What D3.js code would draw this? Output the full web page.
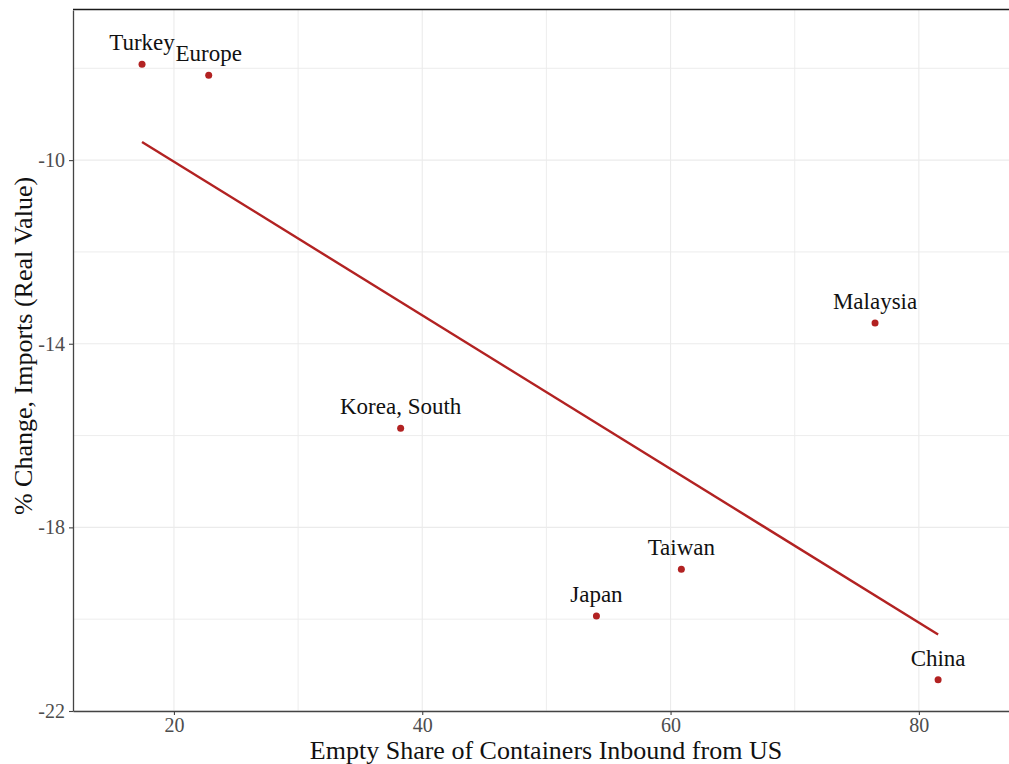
<!DOCTYPE html>
<html>
<head>
<meta charset="utf-8">
<script src="https://cdn.jsdelivr.net/npm/d3@7"></script>
<style>
  html, body { margin: 0; padding: 0; background: #fff; }
  svg { display: block; font-family: "Liberation Serif", "Times New Roman", serif; }
</style>
</head>
<body>
<svg id="chart" width="1009" height="764"></svg>
<script>
// Economies and their values
const countries = ["Turkey", "Europe", "Korea, South", "Malaysia", "Taiwan", "Japan", "China"];
const emptyShare = [17.43, 22.8, 38.26, 76.47, 60.87, 54.03, 81.55];
const importChange = [-7.91, -8.15, -15.84, -13.55, -18.91, -19.93, -21.32];

const xTicks = [20, 40, 60, 80];
const xMinor = [30, 50, 70];
const yTicks = [-10, -14, -18, -22];
const yMinor = [-8, -12, -16, -20];

const xTitle = "Empty Share of Containers Inbound from US";
const yTitle = "% Change, Imports (Real Value)";

const red = "#B22222";
const W = 1009, H = 764;
const m = { left: 73, right: 0, top: 10, bottom: 53 };

const svg = d3.select("#chart");
const x = d3.scaleLinear().domain([11.87, 87.26]).range([m.left, W - m.right]);
const y = d3.scaleLinear().domain([-22, -6.73]).range([H - m.bottom, m.top]);

const data = countries.map((c, i) => ({ name: c, x: emptyShare[i], y: importChange[i] }));

// grid
const grid = svg.append("g");
grid.selectAll(".vx").data(xMinor.concat(xTicks)).join("line")
  .attr("x1", d => x(d)).attr("x2", d => x(d))
  .attr("y1", m.top).attr("y2", H - m.bottom)
  .attr("stroke", "#ebebeb").attr("stroke-width", d => xTicks.includes(d) ? 1.1 : 0.9);
grid.selectAll(".hy").data(yMinor.concat(yTicks)).join("line")
  .attr("y1", d => y(d)).attr("y2", d => y(d))
  .attr("x1", m.left).attr("x2", W - m.right)
  .attr("stroke", "#ebebeb").attr("stroke-width", d => yTicks.includes(d) ? 1.1 : 0.9);

// top border
svg.append("line").attr("x1", m.left).attr("x2", W).attr("y1", m.top - 0.5).attr("y2", m.top - 0.5)
  .attr("stroke", "#1a1a1a").attr("stroke-width", 1.6);

// axes (plain hyphen for negatives)
const fmt = d => String(d);
const xAxis = svg.append("g").attr("transform", `translate(0,${H - m.bottom})`)
  .call(d3.axisBottom(x).tickValues(xTicks).tickFormat(fmt).tickSize(4).tickSizeOuter(0).tickPadding(3));
const yAxis = svg.append("g").attr("transform", `translate(${m.left},0)`)
  .call(d3.axisLeft(y).tickValues(yTicks).tickFormat(fmt).tickSize(4).tickSizeOuter(0).tickPadding(4));
[xAxis, yAxis].forEach(a => {
  a.select(".domain").attr("stroke", "#444").attr("stroke-width", 1.3);
  a.selectAll(".tick line").attr("stroke", "#444").attr("stroke-width", 1.1);
  a.selectAll(".tick text").attr("fill", "#4d4d4d").attr("font-size", 20)
    .attr("font-family", "Liberation Serif, serif");
});
xAxis.selectAll(".tick text").attr("dy", "0.7em");

// regression line (least squares)
const mx = d3.mean(emptyShare), my = d3.mean(importChange);
const slope = d3.sum(emptyShare, (v, i) => (v - mx) * (importChange[i] - my)) /
              d3.sum(emptyShare, v => (v - mx) ** 2);
const icpt = my - slope * mx;
const [x0, x1] = d3.extent(emptyShare);
svg.append("line")
  .attr("x1", x(x0)).attr("y1", y(icpt + slope * x0))
  .attr("x2", x(x1)).attr("y2", y(icpt + slope * x1))
  .attr("stroke", red).attr("stroke-width", 2.4);

// points
svg.selectAll(".pt").data(data).join("circle")
  .attr("cx", d => x(d.x)).attr("cy", d => y(d.y)).attr("r", 3.5).attr("fill", red);

// labels
svg.selectAll(".lbl").data(data).join("text")
  .attr("x", d => x(d.x)).attr("y", d => y(d.y) - 14)
  .attr("text-anchor", "middle").attr("font-size", 23).attr("fill", "#111")
  .text(d => d.name);

// titles
svg.append("text").attr("x", (m.left + W - m.right) / 2 + 5).attr("y", 759)
  .attr("text-anchor", "middle").attr("font-size", 26).attr("fill", "#111").text(xTitle);
svg.append("text").attr("transform", `translate(32,346) rotate(-90)`)
  .attr("text-anchor", "middle").attr("font-size", 26).attr("fill", "#111").text(yTitle);
</script>
</body>
</html>
